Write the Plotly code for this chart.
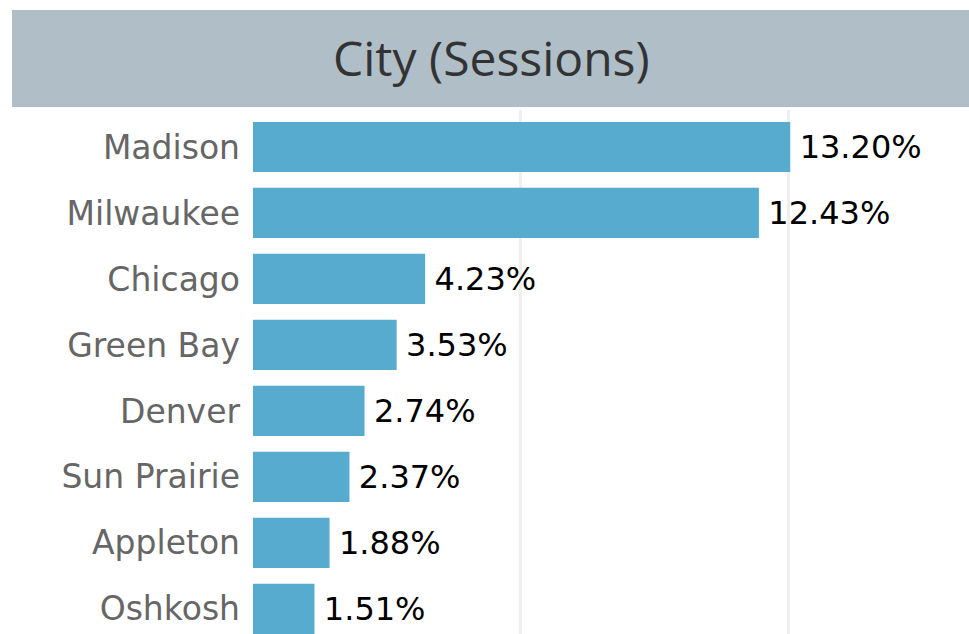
import plotly.graph_objects as go

# data
cities = ["Madison", "Milwaukee", "Chicago", "Green Bay", "Denver",
          "Sun Prairie", "Appleton", "Oshkosh"]
share_pct = [13.20, 12.43, 4.23, 3.53, 2.74, 2.37, 1.88, 1.51]
grid_vals = [0, 6.58, 13.16]

W, H = 969, 634
PLOT_L, PLOT_T = 253, 110  # pixel edges of the plot area
PX_PER_PCT = 40.7

bar_color = "#56ABCE"
header_color = "#B0BEC8"

fig = go.Figure(go.Bar(
    x=share_pct,
    y=cities,
    orientation="h",
    marker=dict(color=bar_color, line=dict(width=0)),
    text=[f"\u2009{v:.2f}%" for v in share_pct],
    textposition="outside",
    textfont=dict(family="DejaVu Sans", size=32, color="black"),
    cliponaxis=False,
    hoverinfo="skip",
))

plot_w = W - PLOT_L
plot_h = H - PLOT_T

def px_x(px):
    return (px - PLOT_L) / plot_w

def px_y(py):
    return (H - py) / plot_h

# header band with title
fig.add_shape(
    type="rect", xref="paper", yref="paper",
    x0=px_x(12), x1=px_x(975), y0=px_y(107), y1=px_y(10),
    fillcolor=header_color, line=dict(width=0), layer="below",
)
fig.add_annotation(
    xref="paper", yref="paper",
    x=px_x(491), y=px_y(58),
    text="City (Sessions)", showarrow=False,
    xanchor="center", yanchor="middle",
    font=dict(family="Open Sans", size=48, color="#333333"),
)

fig.update_layout(
    width=W, height=H,
    margin=dict(l=PLOT_L, r=0, t=PLOT_T, b=0, pad=0),
    paper_bgcolor="white", plot_bgcolor="white",
    bargap=0.24,
    showlegend=False,
)
fig.update_xaxes(
    range=[0, plot_w / PX_PER_PCT], tickvals=grid_vals, showticklabels=False,
    showgrid=True, gridcolor="#EFEFEF", gridwidth=3,
    zeroline=False, showline=False, fixedrange=True,
)
fig.update_yaxes(
    range=[7.38, -0.56], autorange=False,
    tickfont=dict(family="DejaVu Sans", size=33, color="#666666"),
    ticks="", ticklabelstandoff=12, showgrid=False, fixedrange=True,
)

# drop the default page margin so the figure sits at the window corner
fig.write_html(
    "out.html",
    config={"displayModeBar": False},
    post_script=(
        "document.body.style.margin='0';"
        "document.body.style.overflow='hidden';"
        "document.documentElement.style.overflow='hidden';"
    ),
)
